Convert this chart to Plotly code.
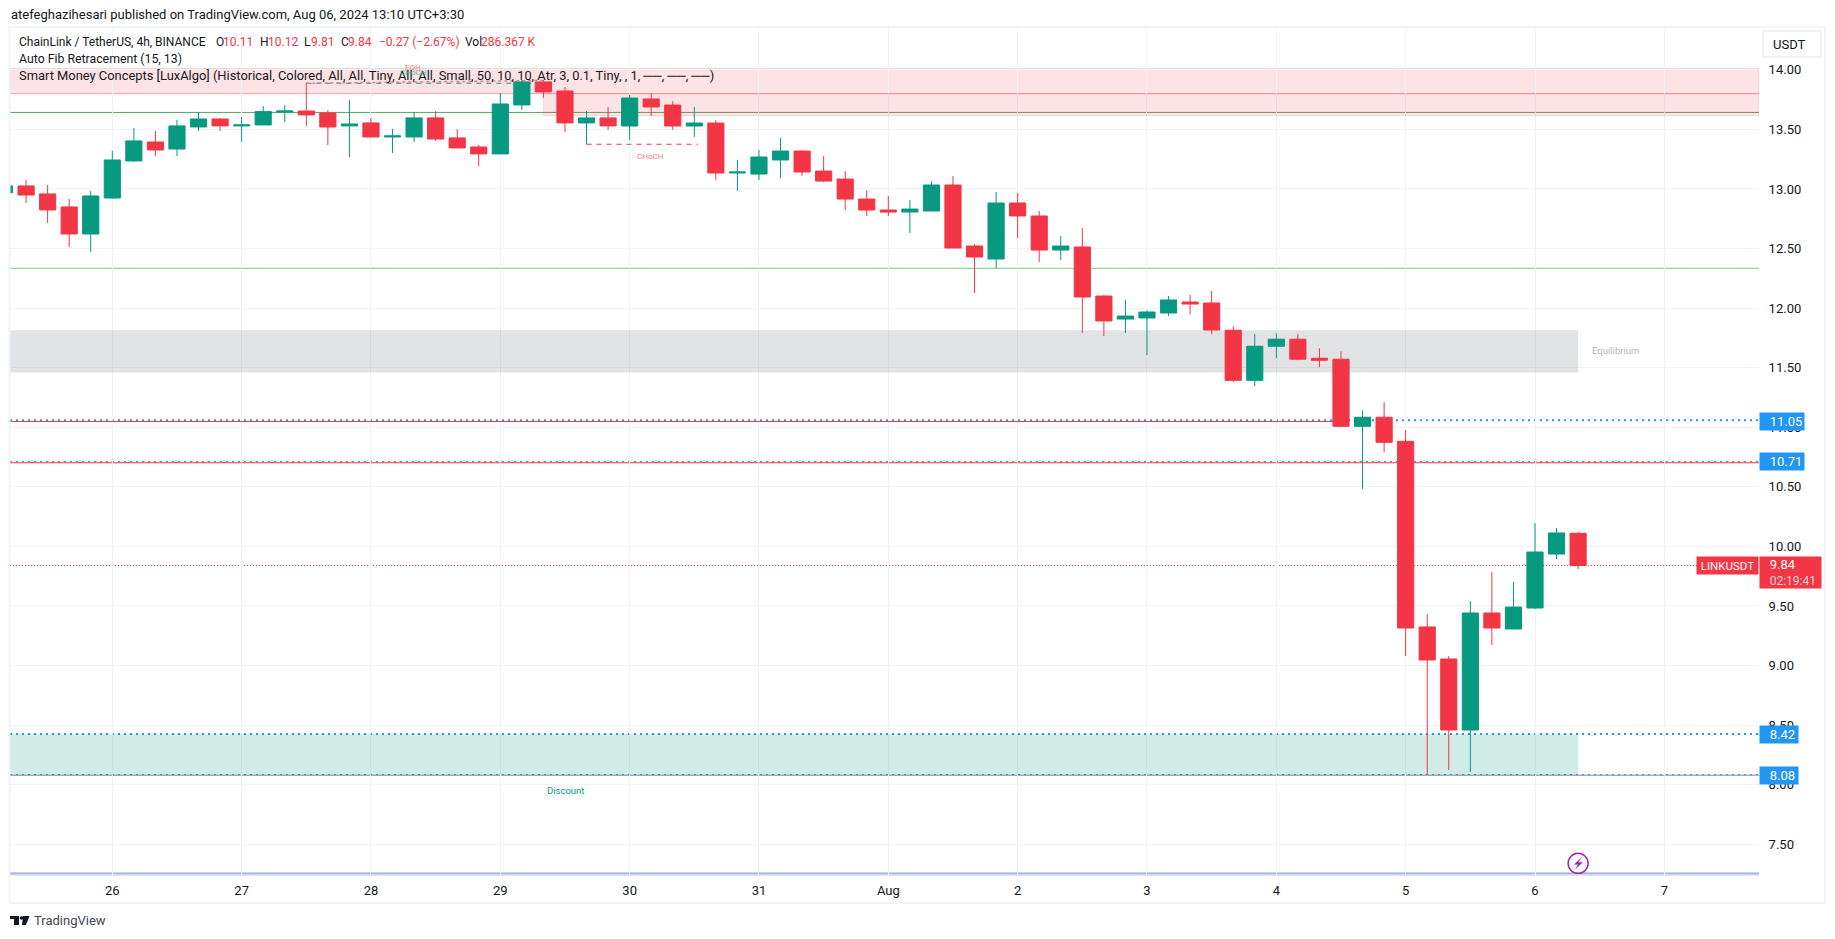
"""LINKUSDT 4h chart, TradingView style, redrawn with Plotly."""
import pandas as pd
import plotly.graph_objects as go

# Candles, one every 4 hours
bar_times = pd.date_range("2024-07-25 04:00", periods=74, freq="4h")
open_prices = [
    12.969, 13.025, 12.958, 12.849, 12.622, 12.924, 13.235, 13.394, 13.335, 13.520,
    13.587, 13.529, 13.537, 13.646, 13.654, 13.638, 13.529, 13.554, 13.436, 13.436,
    13.596, 13.428, 13.352, 13.294, 13.705, 13.898, 13.822, 13.554, 13.596, 13.528,
    13.755, 13.704, 13.528, 13.553, 13.134, 13.125, 13.243, 13.318, 13.150, 13.083,
    12.915, 12.823, 12.806, 12.815, 13.033, 12.521, 12.412, 12.882, 12.773, 12.487,
    12.513, 12.101, 11.908, 11.917, 11.959, 12.051, 12.043, 11.814, 11.394, 11.680,
    11.739, 11.579, 11.571, 11.008, 11.084, 10.882, 9.324, 9.055, 8.459, 9.441,
    9.307, 9.483, 9.936, 10.11,
]
high_prices = [
    13.030, 13.075, 13.033, 12.916, 12.983, 13.319, 13.512, 13.487, 13.579, 13.646,
    13.596, 13.604, 13.696, 13.705, 13.887, 13.663, 13.747, 13.596, 13.503, 13.646,
    13.654, 13.503, 13.369, 13.805, 13.915, 13.915, 13.856, 13.654, 13.688, 13.788,
    13.805, 13.738, 13.688, 13.578, 13.243, 13.327, 13.427, 13.327, 13.276, 13.150,
    12.991, 12.941, 12.907, 13.066, 13.108, 12.538, 12.974, 12.966, 12.815, 12.605,
    12.672, 12.110, 12.068, 11.984, 12.101, 12.110, 12.143, 11.848, 11.781, 11.789,
    11.781, 11.663, 11.638, 11.143, 11.210, 10.975, 9.433, 9.080, 9.542, 9.785,
    9.701, 10.196, 10.154, 10.12,
]
low_prices = [
    12.960, 12.882, 12.714, 12.513, 12.471, 12.916, 13.226, 13.277, 13.277, 13.487,
    13.487, 13.394, 13.537, 13.562, 13.529, 13.369, 13.268, 13.436, 13.302, 13.394,
    13.403, 13.344, 13.193, 13.294, 13.663, 13.764, 13.478, 13.375, 13.495, 13.411,
    13.612, 13.495, 13.436, 13.075, 12.983, 13.075, 13.092, 13.108, 13.058, 12.823,
    12.773, 12.773, 12.630, 12.815, 12.504, 12.127, 12.336, 12.588, 12.387, 12.403,
    11.791, 11.766, 11.791, 11.606, 11.933, 11.950, 11.782, 11.378, 11.344, 11.579,
    11.562, 11.504, 11.000, 10.480, 10.790, 9.080, 8.081, 8.123, 8.106, 9.172,
    9.307, 9.475, 9.894, 9.81,
]
close_prices = [
    13.025, 12.949, 12.824, 12.622, 12.941, 13.243, 13.403, 13.327, 13.529, 13.587,
    13.529, 13.537, 13.649, 13.654, 13.621, 13.520, 13.545, 13.436, 13.445, 13.596,
    13.419, 13.344, 13.294, 13.713, 13.898, 13.814, 13.554, 13.596, 13.529, 13.763,
    13.688, 13.528, 13.553, 13.134, 13.142, 13.268, 13.318, 13.142, 13.066, 12.915,
    12.823, 12.806, 12.831, 13.033, 12.504, 12.429, 12.882, 12.773, 12.487, 12.521,
    12.093, 11.892, 11.933, 11.967, 12.068, 12.034, 11.816, 11.394, 11.680, 11.739,
    11.571, 11.562, 11.008, 11.084, 10.874, 9.315, 9.047, 8.459, 9.441, 9.315,
    9.491, 9.953, 10.113, 9.84,
]

# Axis ticks
day_ticks = pd.date_range("2024-07-26", periods=13, freq="D")
day_labels = ["26", "27", "28", "29", "30", "31", "Aug", "2", "3", "4", "5", "6", "7"]
price_ticks = [7.5, 8, 8.5, 9, 9.5, 10, 10.5, 11, 11.5, 12, 12.5, 13, 13.5, 14]
price_labels = ["%.2f" % p for p in price_ticks]

# Level lines and labels
last_price = 9.84
blue_levels = [11.058, 10.713, 8.426, 8.085]
blue_labels = ["11.05", "10.71", "8.42", "8.08"]
label_centres = [11.05, 10.71, 8.42, 8.08]
GREEN = "#089981"
RED = "#f23645"
BLUE = "#2196f3"
FONT = "Roboto"
TEXT = "#131722"
PINK = "rgba(242,54,69,0.14)"
X_START = "2024-07-25 05:00"

# Plot area in page pixels
LEFT, RIGHT, TOP, BOTTOM = 10, 1759, 27, 876


def px_x(v):
    return (v - LEFT) / (RIGHT - LEFT)


def px_y(v):
    return 1 - (v - TOP) / (BOTTOM - TOP)


def page_path(points):
    return "M " + " L ".join("%.5f,%.5f" % (px_x(a), px_y(b)) for a, b in points) + " Z"


fig = go.Figure()
fig.add_trace(go.Candlestick(
    x=bar_times, open=open_prices, high=high_prices, low=low_prices, close=close_prices,
    whiskerwidth=0,
    increasing=dict(line=dict(color=GREEN, width=1), fillcolor=GREEN),
    decreasing=dict(line=dict(color=RED, width=1), fillcolor=RED),
    showlegend=False,
))

# Flash icon near the last bar
fig.add_trace(go.Scatter(
    x=[bar_times[-1]], y=[7.34], mode="markers", showlegend=False,
    marker=dict(size=20, color="white", line=dict(color="#9c27b0", width=1.5)),
))

shapes = []


def zone(y0, y1, color, x0=0, x1=1, xref="paper", border=None):
    shapes.append(dict(type="rect", layer="between", xref=xref, yref="y", x0=x0, x1=x1, y0=y0, y1=y1,
                       fillcolor=color, line=dict(width=1 if border else 0, color=border or color)))


def level(y, color, dash="solid", width=1, x0=0, x1=1, xref="paper"):
    shapes.append(dict(type="line", layer="between", xref=xref, yref="y", x0=x0, x1=x1, y0=y, y1=y,
                       line=dict(color=color, width=width, dash=dash)))


# Premium, equilibrium and discount zones
zone(13.800, 14.012, PINK, border=PINK)
zone(13.615, 13.800, PINK, x0=bar_times[25], x1="2024-08-07 17:34", xref="x", border=PINK)
zone(11.46, 11.814, "rgba(120,123,134,0.21)", x0=X_START, x1=bar_times[-1], xref="x")
zone(8.08, 8.426, "rgba(8,153,129,0.19)", x0=X_START, x1=bar_times[-1], xref="x")

level(13.800, "#f5a9ae")
level(13.642, "#5ba55f")
level(12.334, "#7cc67f")
for y, w in zip(blue_levels, [2, 1, 2, 1]):
    level(y, BLUE, dash="2px,4px", width=w)
level(11.048, RED, x0=X_START, x1=bar_times[62], xref="x")
level(10.702, RED)
level(8.08, "#7e84ad")
level(7.25, "#c5d0f5", width=3)
level(7.258, "#9fa8da")
level(last_price, RED, dash="1px,2px", x1=px_x(1697))

# Structure breaks above and below the range
level(13.887, GREEN, dash="5px,5px", x0=bar_times[14], x1="2024-07-29 07:20", xref="x")
level(13.375, RED, dash="5px,5px", x0=bar_times[27], x1="2024-07-30 12:40", xref="x")
shapes.append(dict(type="line", layer="between", xref="x", yref="y", x0=bar_times[14], x1=bar_times[25],
                   y0=13.887, y1=13.91, line=dict(color="#f77c80", width=1.5, dash="dot")))

# Page frame, currency button and logo
shapes.append(dict(type="rect", xref="paper", yref="paper", layer="above",
                   x0=px_x(9.5), x1=px_x(1825), y0=px_y(903), y1=px_y(27),
                   line=dict(color="#f0f3fa", width=2), fillcolor="rgba(0,0,0,0)"))
shapes.append(dict(type="rect", xref="paper", yref="paper", layer="above",
                   x0=px_x(1763), x1=px_x(1821), y0=px_y(57), y1=px_y(31),
                   line=dict(color="#e0e3eb", width=1), fillcolor="white"))
for points in [
    [(10, 916), (19, 916), (19, 925), (14, 925), (14, 919), (10, 919)],
    [(23, 916), (29.5, 916), (26, 925), (22, 925)],
]:
    shapes.append(dict(type="path", xref="paper", yref="paper", layer="above",
                       path=page_path(points), fillcolor=TEXT, line=dict(width=0)))
shapes.append(dict(type="circle", xref="paper", yref="paper", layer="above",
                   x0=px_x(19.7), x1=px_x(23.3), y0=px_y(919.8), y1=px_y(916.2),
                   fillcolor=TEXT, line=dict(width=0)))
shapes.append(dict(type="path", xref="paper", yref="paper", layer="above", fillcolor="#9c27b0",
                   line=dict(width=0),
                   path=page_path([(1582, 857), (1574, 864.5), (1578, 864.5), (1575, 869.5),
                                   (1583, 862.3), (1578.5, 862.3)])))

annotations = []


def page_text(x, y, text, color=TEXT, size=13, xanchor="left"):
    annotations.append(dict(xref="paper", yref="paper", x=px_x(x), y=px_y(y), text=text, showarrow=False,
                            xanchor=xanchor, yanchor="middle", font=dict(color=color, size=size),
                            borderpad=0))


page_text(10, 15, "atefeghazihesari published on TradingView.com, Aug 06, 2024 13:10 UTC+3:30")
page_text(18, 42, "ChainLink / TetherUS, 4h, BINANCE", size=12)
for x, text, color in [
    (215, "O", TEXT), (222, "10.11", RED), (259, "H", TEXT), (267, "10.12", RED),
    (303, "L", TEXT), (310, "9.81", RED), (340, "C", TEXT), (347, "9.84", RED),
    (378, "−0.27 (−2.67%)", RED), (464, "Vol", TEXT), (480, "286.367 K", RED),
]:
    page_text(x, 42, text, color, size=12)
page_text(18, 59, "Auto Fib Retracement (15, 13)", size=12.3)
page_text(18, 76, "Smart Money Concepts [LuxAlgo] (Historical, Colored, All, All, Tiny, All, All, Small, "
                  "50, 10, 10, Atr, 3, 0.1, Tiny, , 1, ──, ──, ──)", size=12.9)
page_text(1772, 44, "USDT")
page_text(33, 921, "TradingView", "#434651", 13)

# Small chart labels
page_text(413, 67, "EQH", "#f77c80", 8, "center")
page_text(413, 72, "CHoCH", "#4fb8a3", 8, "center")
page_text(650, 157, "CHoCH", "#f77c80", 8, "center")
page_text(565, 790.5, "Discount", GREEN, 9.5, "center")
page_text(1615, 350.5, "Equilibrium", "#b2b5be", 9.5, "center")

# Price labels on the scale, text indented from the box edge
INDENT = "&nbsp;&nbsp;&nbsp;"
for y, text in zip(label_centres, blue_labels):
    annotations.append(dict(xref="paper", yref="y", x=1, y=y, text=INDENT + text, showarrow=False, xanchor="left",
                            yanchor="middle", width=44 if len(text) > 4 else 38, height=17, align="left",
                            bgcolor=BLUE, font=dict(color="white", size=13), borderpad=0))
annotations.append(dict(xref="paper", yref="y", x=1, y=last_price, yshift=-7, showarrow=False, xanchor="left",
                        yanchor="middle", width=61, height=31, align="left", bgcolor=RED, borderpad=0,
                        text=INDENT + "9.84<br>" + INDENT
                        + "<span style='color:#fbd5d8;font-size:12px'>02:19:41</span>",
                        font=dict(color="white", size=13)))
annotations.append(dict(xref="paper", yref="y", x=1, y=last_price, showarrow=False, xanchor="right",
                        yanchor="middle", width=61, height=17, align="center", bgcolor=RED, borderpad=0,
                        text="LINKUSDT", font=dict(color="white", size=11.5)))

fig.update_layout(
    width=1835, height=939,
    margin=dict(l=LEFT, r=1835 - RIGHT, t=TOP, b=939 - BOTTOM, autoexpand=False),
    paper_bgcolor="white", plot_bgcolor="white",
    font=dict(family=FONT, color=TEXT, size=13),
    boxgap=0.25, boxgroupgap=0,
    shapes=shapes, annotations=annotations,
    showlegend=False,
    xaxis=dict(
        type="date", range=["2024-07-25 05:01", "2024-08-07 17:34"], rangeslider=dict(visible=False),
        tickmode="array", tickvals=day_ticks, ticktext=day_labels,
        showgrid=True, gridcolor="#f0f3fa", gridwidth=1, showline=False, zeroline=False,
        ticks="outside", ticklen=2, tickcolor="white",
    ),
    yaxis=dict(
        side="right", range=[7.234, 14.359],
        tickmode="array", tickvals=price_ticks, ticktext=price_labels,
        showgrid=True, gridcolor="#f0f3fa", gridwidth=1, showline=False, zeroline=False,
        ticks="outside", ticklen=6, tickcolor="white",
    ),
)

fig.write_html("out.html", config=dict(displayModeBar=False), post_script="document.body.style.margin='0';")
